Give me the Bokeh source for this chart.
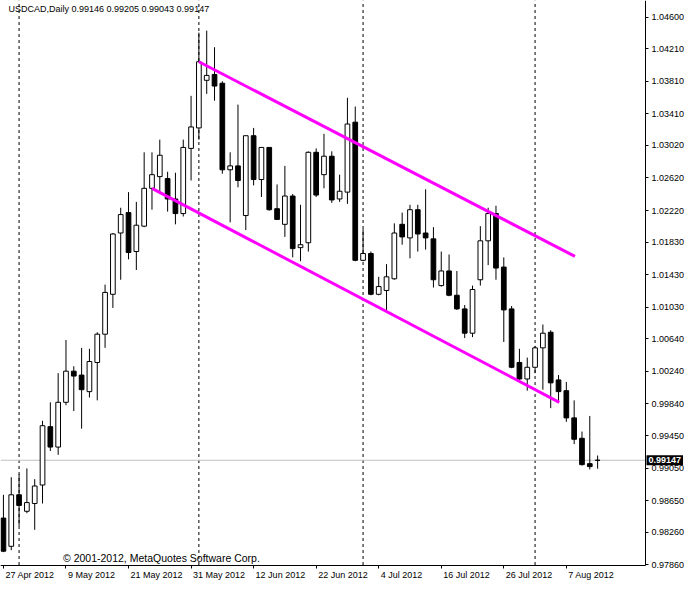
from bokeh.plotting import figure
from bokeh.models import FixedTicker, Label, ColumnDataSource, Range1d, LinearAxis
from bokeh.embed import file_html
from bokeh.resources import INLINE

# ---- data (USDCAD daily, 27 Apr 2012 .. 13 Aug 2012), one entry per trading day ----
opens = [0.98435, 0.98088, 0.98722, 0.98519, 0.98615, 0.98842, 0.99560, 0.99309, 0.99860, 1.00243,
         1.00195, 0.99991, 1.00350, 1.00698, 1.01189, 1.01943, 1.02194, 1.01715, 1.02027, 1.02493,
         1.02637, 1.02613, 1.02362, 1.02182, 1.02984, 1.03236, 1.03822, 1.03894, 1.03786, 1.02721,
         1.02769, 1.02158, 1.03140, 1.02601, 1.02996, 1.02242, 1.02050, 1.02398, 1.01763, 1.01823,
         1.02936, 1.02661, 1.02888, 1.02362, 1.02446, 1.03307, 1.01607, 1.01691, 1.01189, 1.01236,
         1.01380, 1.02050, 1.01883, 1.02230, 1.01943, 1.01871, 1.01296, 1.01476, 1.01177, 1.01009,
         1.00710, 1.01368, 1.01847, 1.02182, 1.01524, 1.01009, 1.00350, 1.00147, 1.00291, 1.00530,
         1.00722, 1.00135, 1.00003, 0.99668, 0.99417, 0.99105, 0.99146]
highs = [0.98722, 0.98938, 0.98974, 0.99046, 0.98914, 0.99632, 0.99860, 1.00219, 1.00626, 1.00303,
         1.00530, 1.00518, 1.00722, 1.01308, 1.01943, 1.02254, 1.02446, 1.02326, 1.02936, 1.02936,
         1.03092, 1.02697, 1.02685, 1.03092, 1.03631, 1.04409, 1.04433, 1.04229, 1.03810, 1.02936,
         1.03523, 1.03140, 1.03236, 1.02996, 1.02996, 1.02541, 1.02769, 1.02422, 1.02290, 1.02948,
         1.02984, 1.03164, 1.02948, 1.02661, 1.03607, 1.03499, 1.01991, 1.01715, 1.01404, 1.01560,
         1.02062, 1.02194, 1.02290, 1.02290, 1.02481, 1.02015, 1.01715, 1.01679, 1.01476, 1.01057,
         1.01296, 1.02027, 1.02254, 1.02278, 1.01643, 1.01045, 1.00518, 1.00410, 1.00554, 1.00817,
         1.00746, 1.00195, 1.00111, 0.99884, 0.99500, 0.99692, 0.99205]
lows = [0.98016, 0.98040, 0.98339, 0.98495, 0.98291, 0.98615, 0.99261, 0.99213, 0.99824, 0.99752,
        0.99536, 0.99919, 0.99884, 1.00530, 1.01021, 1.01368, 1.01619, 1.01488, 1.02015, 1.02230,
        1.02446, 1.02206, 1.02050, 1.02146, 1.02589, 1.03092, 1.03655, 1.03571, 1.02673, 1.02074,
        1.02505, 1.01979, 1.02529, 1.02386, 1.02218, 1.02110, 1.01895, 1.01643, 1.01596, 1.01715,
        1.02386, 1.02493, 1.02314, 1.02326, 1.02302, 1.01596, 1.01596, 1.01177, 1.01177, 1.00997,
        1.01368, 1.01799, 1.01631, 1.01715, 1.01739, 1.01272, 1.01284, 1.01165, 1.00997, 1.00650,
        1.00662, 1.01296, 1.01548, 1.01368, 1.00602, 1.00279, 1.00135, 1.00003, 1.00219, 1.00015,
        0.99788, 0.99860, 0.99620, 0.99345, 0.99081, 0.99034, 0.99043]
closes = [0.98028, 0.98722, 0.98591, 0.98626, 0.98830, 0.99572, 0.99309, 0.99860, 1.00243, 1.00183,
          1.00015, 1.00362, 1.00698, 1.01212, 1.01931, 1.02170, 1.01703, 1.02039, 1.02493, 1.02661,
          1.02900, 1.02362, 1.02182, 1.02996, 1.03248, 1.04050, 1.03882, 1.03751, 1.02721, 1.02769,
          1.02589, 1.03140, 1.02601, 1.02996, 1.02230, 1.02110, 1.02398, 1.01751, 1.01799, 1.02936,
          1.02410, 1.02888, 1.02350, 1.02457, 1.03284, 1.01607, 1.01691, 1.01189, 1.01284, 1.01404,
          1.01943, 1.01895, 1.02230, 1.01931, 1.01883, 1.01368, 1.01476, 1.01177, 1.01009, 1.00710,
          1.01248, 1.01847, 1.02182, 1.01512, 1.00997, 1.00291, 1.00147, 1.00291, 1.00530, 1.00710,
          1.00099, 0.99991, 0.99668, 0.99405, 0.99093, 0.99069, 0.99147]

# date axis: bar index of each labelled day, and its label
date_tick_bars = [0, 8, 16, 24, 32, 40, 48, 56, 64, 72]
date_tick_labels = ["27 Apr 2012", "9 May 2012", "21 May 2012", "31 May 2012", "12 Jun 2012",
                    "22 Jun 2012", "4 Jul 2012", "16 Jul 2012", "26 Jul 2012", "7 Aug 2012"]
# month separators (first trading day of a month)
separator_bars = [2, 25, 46, 68]

# price axis labels
price_ticks = [0.97860, 0.98260, 0.98650, 0.99050, 0.99450, 0.99840, 1.00240, 1.00640, 1.01030,
               1.01430, 1.01830, 1.02220, 1.02620, 1.03020, 1.03410, 1.03810, 1.04210, 1.04600]

# channel trend lines (bar index, price)
upper_x = [25, 73.1]
upper_y = [1.04050, 1.01655]
lower_x = [19, 71.1]
lower_y = [1.02493, 0.99860]

symbol_title = "USDCAD,Daily  0.99146 0.99205 0.99043 0.99147"
last_price = 0.99147

# ---- layout geometry ----
W, H = 684, 584
X0, XC = -0.375, 82.125           # chart area (bars) left / right edge
Y0, Y1 = 0.97858, 1.04804         # chart area bottom / top price
CHART_W = 645.0                   # px of the chart area (rest is the price scale)
CHART_H = 564.5                   # px of the chart area (rest is the date scale)
px_per_bar = CHART_W / (XC - X0)
px_per_price = CHART_H / (Y1 - Y0)
X_END = X0 + W / px_per_bar
Y_BOT = Y1 - H / px_per_price

FONT = "Liberation Sans"
FS = "9px"

# ---- build ----
n = len(opens)
idx = list(range(n))
up = [c >= o for o, c in zip(opens, closes)]
src_w = ColumnDataSource(dict(
    x=[i for i in idx if up[i]],
    top=[max(opens[i], closes[i]) for i in idx if up[i]],
    bottom=[min(opens[i], closes[i]) for i in idx if up[i]]))
src_b = ColumnDataSource(dict(
    x=[i for i in idx if not up[i]],
    top=[max(opens[i], closes[i]) for i in idx if not up[i]],
    bottom=[min(opens[i], closes[i]) for i in idx if not up[i]]))
src_hl = ColumnDataSource(dict(x=idx, h=highs, l=lows))

p = figure(width=W, height=H, output_backend="svg", toolbar_location=None,
           x_range=Range1d(X0, X_END), y_range=Range1d(Y_BOT, Y1),
           x_axis_location=None, y_axis_location=None,
           min_border_left=0, min_border_top=0, min_border_right=0, min_border_bottom=0)
p.background_fill_color = "white"
p.border_fill_color = "white"
p.outline_line_color = None
p.xgrid.visible = False
p.ygrid.visible = False

# month separators
p.segment(x0=separator_bars, y0=[Y0] * len(separator_bars), x1=separator_bars,
          y1=[Y1] * len(separator_bars), line_color="black", line_dash="3 3", line_width=1)
# current price line
p.segment(x0=[X0], y0=[last_price], x1=[XC], y1=[last_price], line_color="#C0C0C0", line_width=1)

# candles
p.segment(x0="x", y0="l", x1="x", y1="h", source=src_hl, line_color="black", line_width=1)
p.vbar(x="x", top="top", bottom="bottom", width=0.6, source=src_w,
       fill_color="white", line_color="black", line_width=1)
p.vbar(x="x", top="top", bottom="bottom", width=0.6, source=src_b,
       fill_color="black", line_color="black", line_width=1)

# trend lines
p.line(upper_x, upper_y, line_color="#FF00FF", line_width=3)
p.line(lower_x, lower_y, line_color="#FF00FF", line_width=3)

# price scale (drawn at the chart's right edge)
ya = LinearAxis(fixed_location=XC, bounds=(Y0, Y1))
ya.ticker = FixedTicker(ticks=price_ticks)
ya.major_label_overrides = {t: f"{t:.5f}" for t in price_ticks}
ya.minor_tick_line_color = None
ya.major_tick_in = 0
ya.major_tick_out = 3
ya.major_label_standoff = 3
ya.major_label_text_font = FONT
ya.major_label_text_font_size = FS
ya.major_label_text_color = "black"
ya.axis_line_color = "black"
p.add_layout(ya, "right")

# date scale: tick marks + line
xa = LinearAxis(fixed_location=Y0, bounds=(X0, XC))
xa.ticker = FixedTicker(ticks=date_tick_bars)
xa.major_label_overrides = {b: "" for b in date_tick_bars}
xa.major_label_text_font_size = "0px"
xa.minor_tick_line_color = None
xa.major_tick_in = 0
xa.major_tick_out = 3
xa.axis_line_color = "black"
p.add_layout(xa, "below")

# date labels: written to the right of their tick (MetaTrader style)
CW = {"0": .556, "1": .556, "2": .556, "3": .556, "4": .556, "5": .556, "6": .556, "7": .556,
      "8": .556, "9": .556, " ": .278, "A": .667, "p": .556, "r": .333, "M": .833, "a": .556,
      "y": .5, "J": .5, "u": .556, "n": .556, "l": .222, "g": .556}
fs_px = float(FS.replace("px", ""))
label_pos = []
for b, lab in zip(date_tick_bars, date_tick_labels):
    w = sum(CW.get(ch, .556) for ch in lab) * fs_px
    label_pos.append(round(b + (2 + w / 2) / px_per_bar, 4))
xl = LinearAxis(fixed_location=Y0, bounds=(X0, XC))
xl.ticker = FixedTicker(ticks=label_pos)
xl.major_label_overrides = {pos: lab for pos, lab in zip(label_pos, date_tick_labels)}
xl.minor_tick_line_color = None
xl.major_tick_line_color = None
xl.axis_line_color = None
xl.major_tick_in = 0
xl.major_tick_out = 0
xl.major_label_standoff = 5
xl.major_label_text_font = FONT
xl.major_label_text_font_size = FS
xl.major_label_text_color = "black"
p.add_layout(xl, "below")

# texts
p.add_layout(Label(x=X0 + 8 / px_per_bar, y=Y1 - 3 / px_per_price, text=symbol_title,
                   text_font=FONT, text_font_size=FS, text_color="black",
                   text_baseline="top", text_align="left"))
p.add_layout(Label(x=X0 + 62.5 / px_per_bar, y=Y0 + 1 / px_per_price,
                   text="\u00a9 2001-2012, MetaQuotes Software Corp.",
                   text_font=FONT, text_font_size="10.5px", text_color="black",
                   text_baseline="bottom", text_align="left"))
p.add_layout(Label(x=XC, y=last_price, x_offset=1, text=f"{last_price:.5f}", text_font=FONT,
                   text_font_size=FS, text_font_style="bold", text_color="white",
                   background_fill_color="black", background_fill_alpha=1.0,
                   text_baseline="middle", text_align="left", padding=2))

open("out.html", "w").write(file_html(p, INLINE))
